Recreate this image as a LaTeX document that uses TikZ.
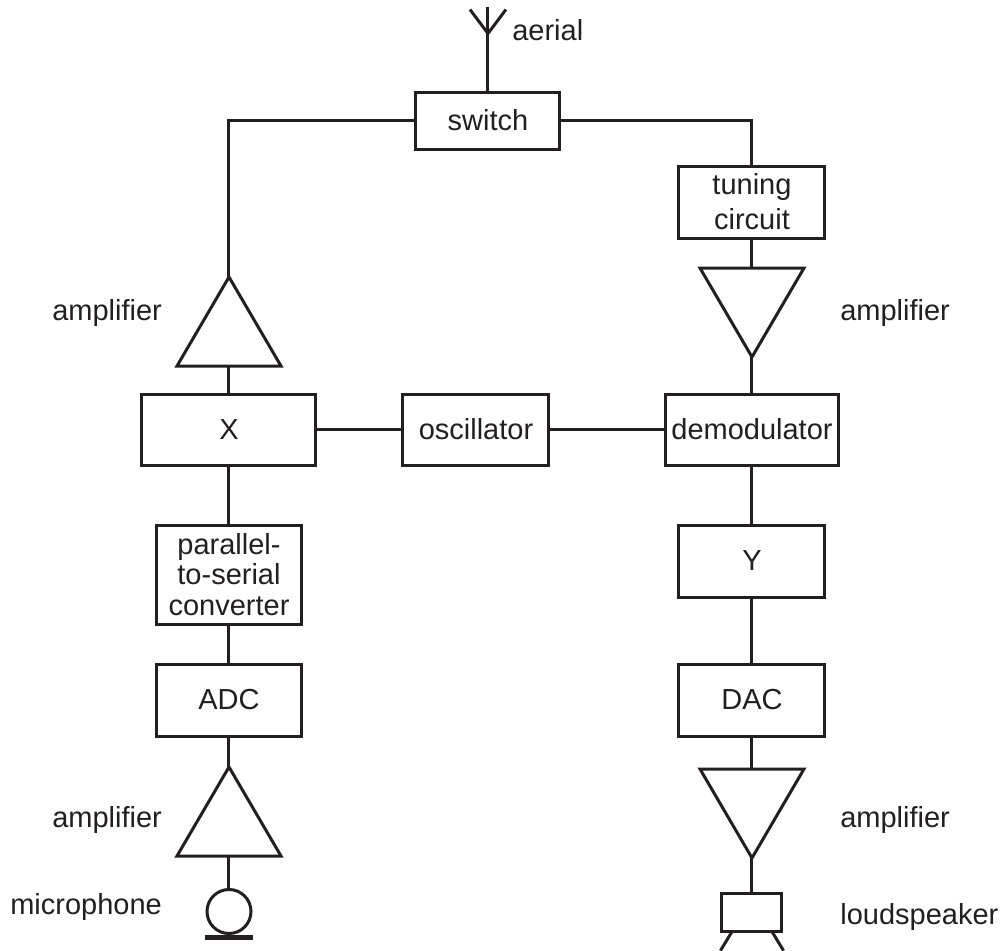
\documentclass[tikz,border=0pt]{standalone}
\usepackage{fontspec}
\setmainfont{Liberation Sans}
\usetikzlibrary{shapes.geometric}
\definecolor{ink}{HTML}{231F20}
\tikzset{block/.style={draw=ink, text=ink, line width=0.06cm, align=center, text centered, fill=white, font=\fontsize{16.5}{17.5}\selectfont}}
\tikzset{amp/.style={isosceles triangle, isosceles triangle stretches, draw=ink, line width=0.06cm, minimum width=2.08cm, minimum height=1.78cm, inner sep=0pt, outer sep=0pt, anchor=apex}}
\tikzset{connect/.style={draw=ink, line width=0.06cm}}
\tikzset{tag/.style={text=ink, inner sep=0pt, anchor=base west, font=\fontsize{16.5}{17.5}\selectfont}}

\begin{document}
\begin{tikzpicture}

\useasboundingbox (-9.76,2.41) rectangle (10.32,-16.61);

%top row
\node[block,minimum height=1.14cm,minimum width=2.88cm] (switch) at (0,0) {switch};
\node[block,minimum height=1.44cm,minimum width=2.92cm] (tuning) at([xshift=5.28cm,yshift=-1.63cm]switch) {tuning\\[0.08cm]circuit};
\node[amp,shape border rotate=270] (amptr) at([yshift=-3.1cm]tuning) {};

%middle row
\node[block,minimum height=1.42cm,minimum width=3.48cm] (x) at([xshift=-5.18cm,yshift=-6.18cm]switch) {X};
\node[block,minimum height=1.42cm,minimum width=2.92cm] (oscillator) at([xshift=-0.24cm,yshift=-6.18cm]switch) {oscillator};
\node[block,minimum height=1.42cm,minimum width=3.44cm] (demodulator) at([xshift=5.28cm,yshift=-6.18cm]switch) {demodulator};
\node[amp,shape border rotate=90] (amptl) at([yshift=3.05cm]x) {};

%left chain
\node[block,minimum height=1.98cm,minimum width=2.9cm] (parallel) at([yshift=-2.9cm]x) {parallel-\\to-serial\\converter};
\node[block,minimum height=1.44cm,minimum width=2.9cm] (adc) at([yshift=-5.41cm]x) {ADC};
\node[amp,shape border rotate=90] (ampbl) at([yshift=-6.75cm]x) {};
\node[draw=ink,line width=0.06cm,circle,minimum size=0.88cm,inner sep=0pt] (mic) at([yshift=-9.64cm]x) {};
\node[fill=ink,minimum height=0.1cm,minimum width=0.96cm,inner sep=0pt,anchor=north] (micbar) at(mic.south) {};

%right chain
\node[block,minimum height=1.44cm,minimum width=2.92cm] (y) at([yshift=-2.63cm]demodulator) {Y};
\node[block,minimum height=1.44cm,minimum width=2.92cm] (dac) at([yshift=-5.41cm]demodulator) {DAC};
\node[amp,shape border rotate=270] (ampbr) at([yshift=-8.57cm]demodulator) {};
\node[draw=ink,line width=0.06cm,minimum height=0.76cm,minimum width=1.2cm,inner sep=0pt] (speaker) at([yshift=-9.65cm]demodulator) {};

%aerial
\coordinate (aerialtop) at ([yshift=1.68cm]switch.north);
\coordinate (aerialjoin) at ([yshift=1.14cm]switch.north);
\coordinate (aerialleft) at ([xshift=-0.36cm,yshift=1.62cm]switch.north);
\coordinate (aerialright) at ([xshift=0.36cm,yshift=1.62cm]switch.north);
\path[connect] (switch.north) -- (aerialtop);
\path[connect] (aerialleft) -- (aerialjoin) -- (aerialright);

%speaker legs
\coordinate (legleft) at ([yshift=-0.36cm]speaker.south west);
\coordinate (legright) at ([yshift=-0.36cm]speaker.south east);
\path[connect] ([xshift=0.22cm]speaker.south west) -- (legleft);
\path[connect] ([xshift=-0.22cm]speaker.south east) -- (legright);

%connections
\path[connect] (switch.west) -| (amptl.apex);
\path[connect] (switch.east) -| (tuning.north);
\path[connect] (tuning.south) -- (amptr.lower side);
\path[connect] (amptr.apex) -- (demodulator.north);
\path[connect] (amptl.lower side) -- (x.north);
\path[connect] (x.east) -- (oscillator.west);
\path[connect] (oscillator.east) -- (demodulator.west);
\path[connect] (x.south) -- (parallel.north);
\path[connect] (parallel.south) -- (adc.north);
\path[connect] (adc.south) -- (ampbl.apex);
\path[connect] (ampbl.lower side) -- (mic.north);
\path[connect] (demodulator.south) -- (y.north);
\path[connect] (y.south) -- (dac.north);
\path[connect] (dac.south) -- (ampbr.lower side);
\path[connect] (ampbr.apex) -- (speaker.north);

%labels
\node[tag] (aeriallabel) at([xshift=0.48cm,yshift=1.0cm]switch.north) {aerial};
\node[tag] (amptllabel) at([xshift=-3.54cm,yshift=-0.86cm]amptl.apex) {amplifier};
\node[tag] (amptrlabel) at([xshift=1.76cm,yshift=0.74cm]amptr.apex) {amplifier};
\node[tag] (ampbllabel) at([xshift=-3.54cm,yshift=-1.2cm]ampbl.apex) {amplifier};
\node[tag] (ampbrlabel) at([xshift=1.76cm,yshift=0.62cm]ampbr.apex) {amplifier};
\node[tag] (miclabel) at([xshift=-4.38cm,yshift=-0.05cm]mic) {microphone};
\node[tag] (speakerlabel) at([xshift=1.76cm,yshift=-0.24cm]speaker) {loudspeaker};

\end{tikzpicture}
\end{document}
